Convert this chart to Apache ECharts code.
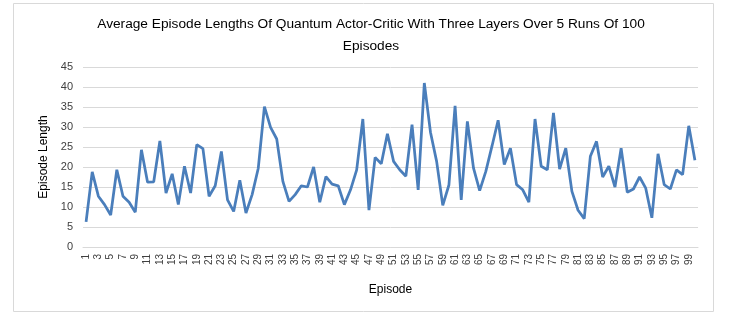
<!DOCTYPE html>
<html>
<head>
<meta charset="utf-8">
<script src="https://cdn.jsdelivr.net/npm/echarts@6/dist/echarts.min.js"></script>
<style>
  html, body { margin: 0; padding: 0; background: #fff; }
  #container { width: 733px; height: 315px; }
</style>
</head>
<body>
<div id="container"></div>
<script>
"use strict";

// 100 episodes, averaged over 5 runs
const episodes = [];
for (let i = 1; i <= 100; i++) episodes.push(String(i));

const episodeLengths = [
    6.3, 18.8, 12.7, 10.6, 8.0, 19.3, 12.7, 11.2, 8.7, 24.3,
    16.2, 16.3, 26.5, 13.5, 18.3, 10.6, 20.2, 13.5, 25.6, 24.6,
    12.7, 15.3, 23.9, 11.8, 8.9, 16.7, 8.5, 13.1, 19.7, 35.1,
    29.9, 27.0, 16.4, 11.4, 13.1, 15.3, 15.0, 20.0, 11.2, 17.6,
    15.7, 15.3, 10.6, 14.3, 19.3, 32.0, 9.2, 22.4, 20.8, 28.3,
    21.4, 19.3, 17.7, 30.6, 14.3, 41.0, 28.7, 21.4, 10.4, 15.5,
    35.3, 11.8, 31.4, 19.7, 14.1, 18.9, 25.2, 31.7, 20.6, 24.7,
    15.6, 14.3, 11.2, 32.0, 20.2, 19.3, 33.5, 19.5, 24.7, 13.9,
    9.2, 7.1, 22.7, 26.4, 17.5, 20.2, 15.0, 24.7, 13.7, 14.5,
    17.5, 14.7, 7.3, 23.3, 15.6, 14.5, 19.3, 18.1, 30.3, 21.7
];

let myChart = echarts.init(document.getElementById('container'));

let option = {
    animation: false,
    title: {
        text: 'Average Episode Lengths Of Quantum Actor-Critic With Three Layers Over 5 Runs Of 100\nEpisodes',
        left: 366,
        top: 8,
        textAlign: 'center',
        textStyle: {
            fontFamily: 'Liberation Sans',
            fontSize: 13.7,
            fontWeight: 'normal',
            color: '#000',
            lineHeight: 22
        }
    },
    graphic: [{
        type: 'rect',
        shape: { x: 13.5, y: 3.5, width: 700, height: 308 },
        style: { fill: 'none', stroke: '#d9d9d9', lineWidth: 1 },
        silent: true
    }],
    grid: {
        left: 83,
        right: 35,
        top: 67,
        bottom: 68
    },
    xAxis: {
        type: 'category',
        data: episodes,
        boundaryGap: true,
        name: 'Episode',
        nameLocation: 'middle',
        nameGap: 37,
        nameTextStyle: { fontFamily: 'Liberation Sans', fontSize: 12, color: '#000' },
        axisLine: { lineStyle: { color: '#d9d9d9' } },
        axisTick: { show: false },
        axisLabel: {
            interval: 1,
            rotate: 90,
            fontFamily: 'Liberation Sans',
            fontSize: 10,
            color: '#404040',
            margin: 7
        }
    },
    yAxis: {
        type: 'value',
        min: 0,
        max: 45,
        interval: 5,
        name: 'Episode Length',
        nameLocation: 'middle',
        nameGap: 32,
        nameTextStyle: { fontFamily: 'Liberation Sans', fontSize: 12, color: '#000' },
        axisLine: { show: false },
        axisTick: { show: false },
        splitLine: { lineStyle: { color: '#d9d9d9' } },
        axisLabel: {
            fontFamily: 'Liberation Sans',
            fontSize: 11,
            color: '#404040',
            margin: 10
        }
    },
    series: [{
        type: 'line',
        data: episodeLengths,
        symbol: 'none',
        lineStyle: { color: '#4a7ebb', width: 2.75 },
        itemStyle: { color: '#4a7ebb' }
    }]
};

myChart.setOption(option);

window.addEventListener('resize', function () {
    myChart.resize();
});
</script>
</body>
</html>
